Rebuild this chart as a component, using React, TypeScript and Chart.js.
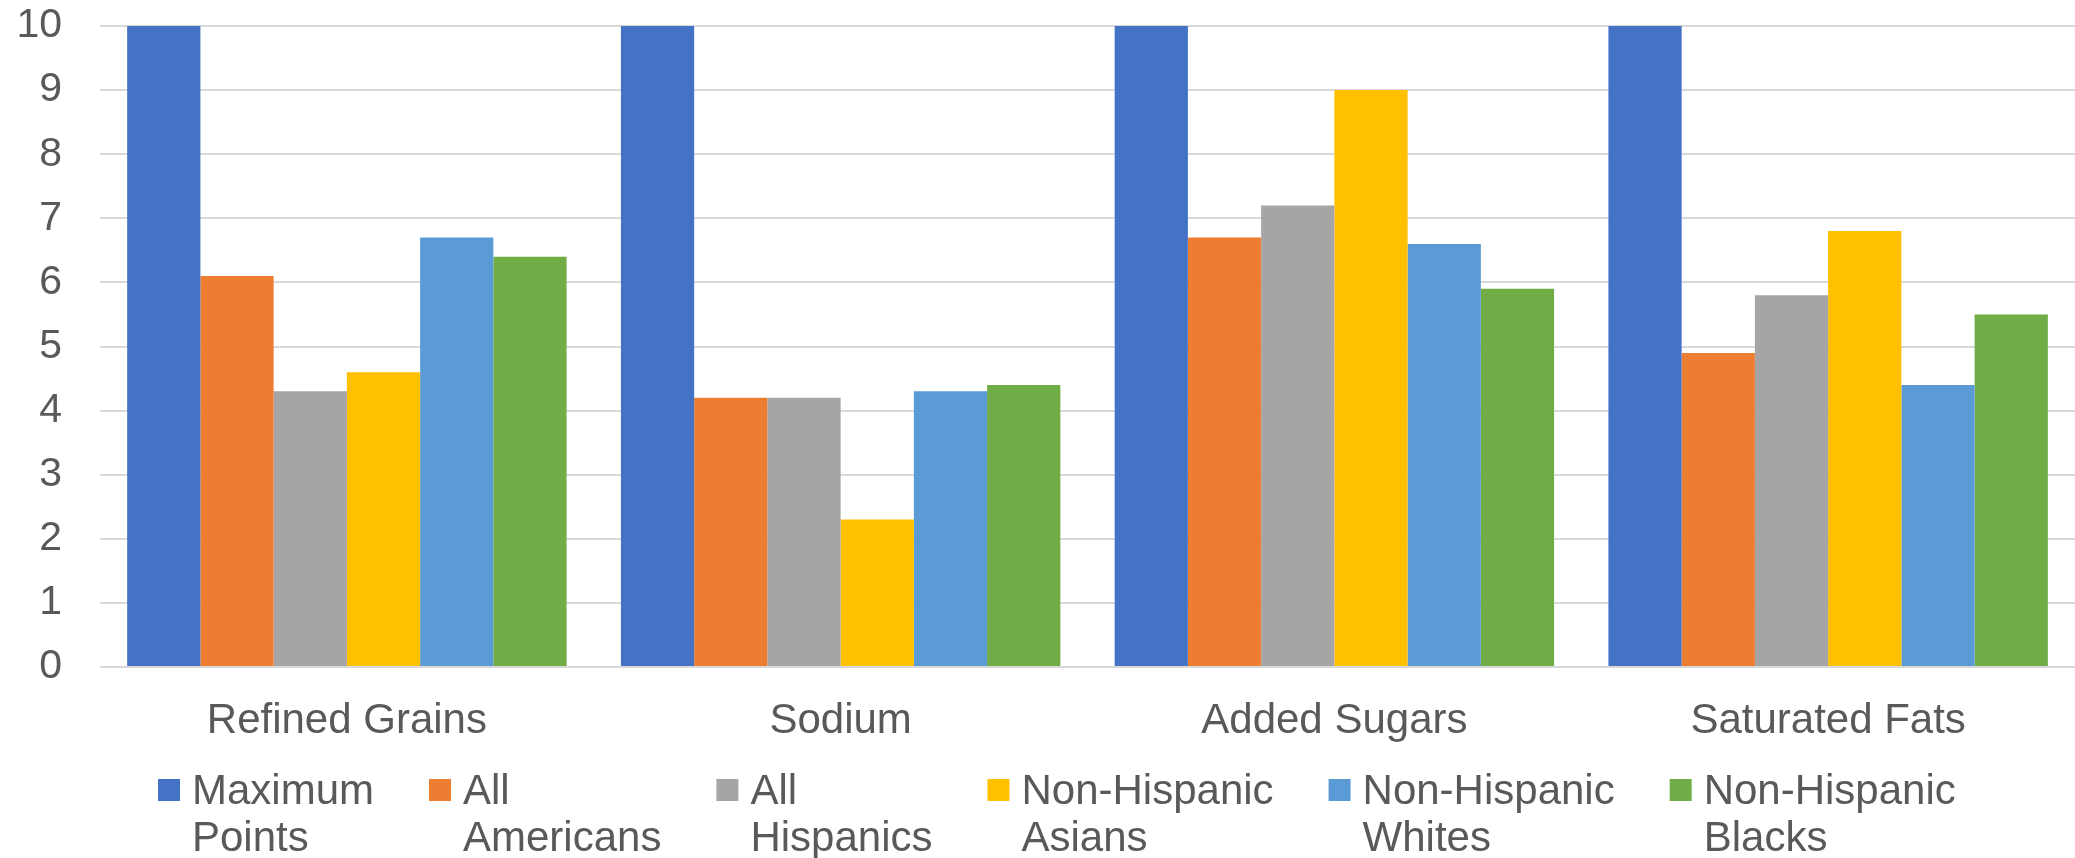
import React, { useEffect, useRef } from "react";
import { Chart, registerables } from "chart.js";

Chart.register(...registerables);

// Dietary component scores by population group
const categories = ["Refined Grains", "Sodium", "Added Sugars", "Saturated Fats"];

const seriesLines: string[][] = [
  ["Maximum", "Points"],
  ["All", "Americans"],
  ["All", "Hispanics"],
  ["Non-Hispanic", "Asians"],
  ["Non-Hispanic", "Whites"],
  ["Non-Hispanic", "Blacks"],
];

const maximumPoints = [10, 10, 10, 10];
const allAmericans = [6.1, 4.2, 6.7, 4.9];
const allHispanics = [4.3, 4.2, 7.2, 5.8];
const nonHispanicAsians = [4.6, 2.3, 9.0, 6.8];
const nonHispanicWhites = [6.7, 4.3, 6.6, 4.4];
const nonHispanicBlacks = [6.4, 4.4, 5.9, 5.5];

const seriesValues = [
  maximumPoints,
  allAmericans,
  allHispanics,
  nonHispanicAsians,
  nonHispanicWhites,
  nonHispanicBlacks,
];

const seriesColors = ["#4472C4", "#ED7D31", "#A5A5A5", "#FFC000", "#5B9BD5", "#70AD47"];

const yMin = 0;
const yMax = 10;
const yStep = 1;

const FONT = '"Liberation Sans", Arial, Helvetica, sans-serif';
const TEXT = "#595959";
const GRID = "#d9d9d9";

// Two-line legend drawn under the category labels
const twoLineLegend = {
  id: "twoLineLegend",
  afterDraw(chart: any) {
    const ctx = chart.ctx as CanvasRenderingContext2D;
    ctx.save();
    ctx.font = `42px ${FONT}`;
    ctx.textBaseline = "alphabetic";
    ctx.textAlign = "left";
    const box = 22;
    const boxTop = 779;
    const textGap = 12;
    const itemGap = 55;
    const baseline = 804;
    const lineStep = 47;
    let x = 158;
    chart.data.datasets.forEach((ds: any, i: number) => {
      const lines = seriesLines[i];
      ctx.fillStyle = ds.backgroundColor;
      ctx.fillRect(x, boxTop, box, box);
      ctx.fillStyle = TEXT;
      lines.forEach((ln, j) => ctx.fillText(ln, x + box + textGap, baseline + j * lineStep));
      const w = Math.max(...lines.map((l) => ctx.measureText(l).width));
      x += box + textGap + w + itemGap;
    });
    ctx.restore();
  },
};

export default function App() {
  const canvasRef = useRef<HTMLCanvasElement | null>(null);

  useEffect(() => {
    document.body.style.margin = "0";
    const canvas = canvasRef.current;
    if (!canvas) return;

    const chart = new Chart(canvas, {
      type: "bar",
      data: {
        labels: categories,
        datasets: seriesValues.map((values, i) => ({
          label: seriesLines[i].join(" "),
          data: values,
          backgroundColor: seriesColors[i],
          borderWidth: 0,
          barPercentage: 1,
          categoryPercentage: 0.89,
        })),
      },
      options: {
        responsive: false,
        animation: false,
        devicePixelRatio: 1,
        layout: { padding: { top: 26, right: 0, bottom: 0, left: 0 } },
        plugins: {
          legend: { display: false },
          tooltip: { enabled: false },
          title: { display: false },
        },
        scales: {
          x: {
            grid: { display: false, drawTicks: false },
            border: { display: false },
            ticks: {
              color: TEXT,
              font: { family: FONT, size: 42 },
              padding: 29,
              maxRotation: 0,
            },
            afterFit(scale: any) {
              scale.height = 191;
            },
          },
          y: {
            min: yMin,
            max: yMax,
            grid: { color: GRID, lineWidth: 2, drawTicks: false },
            border: { display: false },
            ticks: {
              stepSize: yStep,
              color: TEXT,
              font: { family: FONT, size: 41 },
              padding: 38,
            },
            afterFit(scale: any) {
              scale.width = 100;
              scale.paddingTop = 0;
              scale.paddingBottom = 0;
            },
          },
        },
      },
      plugins: [twoLineLegend],
    });

    return () => chart.destroy();
  }, []);

  return (
    <div style={{ width: 2075, height: 858, background: "#ffffff" }}>
      <canvas ref={canvasRef} width={2075} height={858} style={{ display: "block" }} />
    </div>
  );
}
